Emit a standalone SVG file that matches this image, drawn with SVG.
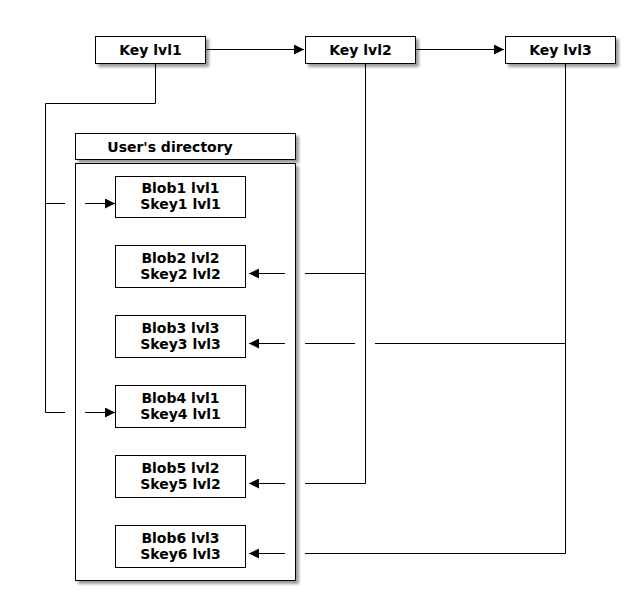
<svg xmlns="http://www.w3.org/2000/svg" width="640" height="616" viewBox="0 0 640 616">
<defs>
<filter id="sh" x="-10%" y="-10%" width="130%" height="140%">
<feGaussianBlur in="SourceAlpha" stdDeviation="1.5"/>
<feOffset dx="3" dy="3" result="b"/>
<feComponentTransfer><feFuncA type="linear" slope="0.4"/></feComponentTransfer>
<feMerge><feMergeNode/><feMergeNode in="SourceGraphic"/></feMerge>
</filter>
<marker id="ah" viewBox="0 0 10 10" refX="10" refY="5" markerWidth="10" markerHeight="10" markerUnits="userSpaceOnUse" orient="auto">
<path d="M0,0 L10,5 L0,10 z" fill="#000"/>
</marker>
</defs>
<style>
.box{fill:#fff;stroke:#000;stroke-width:1}
.sbox{fill:#fff;stroke:#000;stroke-width:1;filter:url(#sh)}
.t{font-family:"DejaVu Sans",sans-serif;font-size:14px;font-weight:bold;fill:#000;text-anchor:middle}
.c{fill:none;stroke:#000;stroke-width:1}
.a{fill:none;stroke:#000;stroke-width:1;marker-end:url(#ah)}
</style>
<rect width="640" height="616" fill="#fff"/>
<g id="key1"><rect class="sbox" x="95.5" y="36.5" width="110" height="27"/><text class="t" x="150.5" y="55">Key lvl1</text></g>
<g id="key2"><rect class="sbox" x="305.5" y="36.5" width="110" height="27"/><text class="t" x="360.5" y="55">Key lvl2</text></g>
<g id="key3"><rect class="sbox" x="505.5" y="36.5" width="110" height="27"/><text class="t" x="560.5" y="55">Key lvl3</text></g>
<g id="dirheader"><rect class="sbox" x="75.5" y="133.5" width="220" height="26"/><text class="t" x="170" y="152">User's directory</text></g>
<g id="dir"><rect class="sbox" x="75.5" y="163.5" width="220" height="417"/></g>
<g id="blob1"><rect class="box" x="115.5" y="176.5" width="130" height="41"/><text class="t" x="180.5" y="193">Blob1 lvl1</text><text class="t" x="180.5" y="209">Skey1 lvl1</text></g>
<g id="blob2"><rect class="box" x="115.5" y="245.5" width="130" height="42"/><text class="t" x="180.5" y="263">Blob2 lvl2</text><text class="t" x="180.5" y="279">Skey2 lvl2</text></g>
<g id="blob3"><rect class="box" x="115.5" y="315.5" width="130" height="42"/><text class="t" x="180.5" y="333">Blob3 lvl3</text><text class="t" x="180.5" y="349">Skey3 lvl3</text></g>
<g id="blob4"><rect class="box" x="115.5" y="385.5" width="130" height="42"/><text class="t" x="180.5" y="403">Blob4 lvl1</text><text class="t" x="180.5" y="419">Skey4 lvl1</text></g>
<g id="blob5"><rect class="box" x="115.5" y="455.5" width="130" height="42"/><text class="t" x="180.5" y="473">Blob5 lvl2</text><text class="t" x="180.5" y="489">Skey5 lvl2</text></g>
<g id="blob6"><rect class="box" x="115.5" y="525.5" width="130" height="42"/><text class="t" x="180.5" y="543">Blob6 lvl3</text><text class="t" x="180.5" y="559">Skey6 lvl3</text></g>
<g id="connectors">
<path class="a" d="M206.5,49.5 H304"/>
<path class="a" d="M416.5,49.5 H504"/>
<path class="c" d="M155.5,63 V103.5 H45.5 V412.5 H65"/>
<path class="c" d="M45.5,203.5 H65"/>
<path class="a" d="M85,203.5 H115"/>
<path class="a" d="M85,412.5 H115"/>
<path class="c" d="M365.5,63 V483.5 H305"/>
<path class="c" d="M365.5,273.5 H305"/>
<path class="a" d="M285,273.5 H249"/>
<path class="a" d="M285,483.5 H249"/>
<path class="c" d="M565.5,63 V553.5 H305"/>
<path class="c" d="M565.5,343.5 H375"/>
<path class="c" d="M355,343.5 H305"/>
<path class="a" d="M285,343.5 H249"/>
<path class="a" d="M285,553.5 H249"/>
</g>
</svg>
